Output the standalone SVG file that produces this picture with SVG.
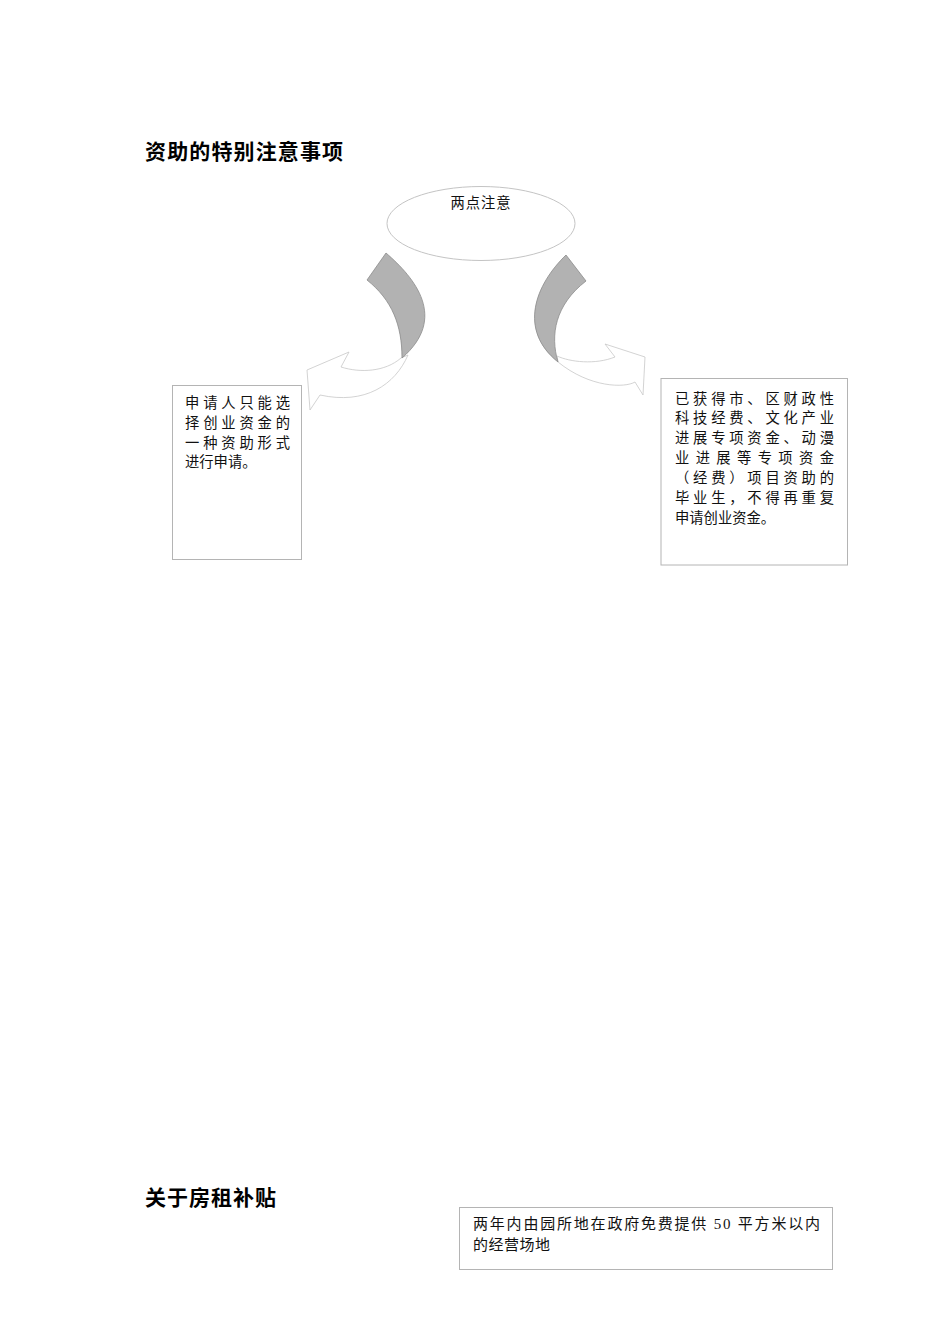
<svg xmlns="http://www.w3.org/2000/svg" width="950" height="1344" viewBox="0 0 950 1344">
<style>
.title{font-family:"Noto Sans CJK SC","Liberation Sans",sans-serif;font-weight:bold;font-size:21px;fill:#000}
.body{font-family:"Liberation Serif","Noto Sans CJK SC",serif;font-size:14.3px;fill:#111}
.box{fill:#fff;stroke:#b4b4b4;stroke-width:1}
.ell{fill:#fff;stroke:#c4c4c4;stroke-width:1}
.band{fill:#b2b2b2;stroke:#8c8c8c;stroke-width:0.8}
.head{fill:#fff;stroke:#c8c8c8;stroke-width:0.8}
</style>
<rect width="950" height="1344" fill="#fff"/>
<g id="title1"><text class="title" x="145" y="158.5" textLength="198" lengthAdjust="spacing">资助的特别注意事项</text></g>
<g id="center">
<ellipse class="ell" cx="481" cy="223.5" rx="94" ry="37"/>
<text class="body" x="481" y="208" text-anchor="middle" style="letter-spacing:1px">两点注意</text>
</g>
<g id="connectors">
<path class="head" d="M408,355 C395,385 365,405 320,395 L310,410 L307,370 L349,352 L341,367 C360,373 385,372 401,358 Z"/>
<path class="band" d="M386,253 C415,278 448,318 402,358 C402,325 392,300 367,280 Z"/>
<path class="head" d="M557,356 C570,362 595,365 615,357 L605,344 L645,357 L643,395 L635,382 C625,388 590,388 558,362 Z"/>
<path class="band" d="M566,255 C535,285 518,330 558,362 C550,335 555,305 586,281 Z"/>
</g>
<g id="left-box">
<rect class="box" x="172.5" y="385.5" width="129" height="174"/>
<text class="body" x="185" y="407.5" textLength="105" lengthAdjust="spacing">申请人只能选</text>
<text class="body" x="185" y="427.5" textLength="105" lengthAdjust="spacing">择创业资金的</text>
<text class="body" x="185" y="447.5" textLength="105" lengthAdjust="spacing">一种资助形式</text>
<text class="body" x="185" y="467">进行申请。</text>
</g>
<g id="right-box">
<rect class="box" x="661" y="378.5" width="186.5" height="186.5"/>
<text class="body" x="675" y="403.5" textLength="159" lengthAdjust="spacing">已获得市、区财政性</text>
<text class="body" x="675" y="423.4" textLength="159" lengthAdjust="spacing">科技经费、文化产业</text>
<text class="body" x="675" y="443.3" textLength="159" lengthAdjust="spacing">进展专项资金、动漫</text>
<text class="body" x="675" y="463.2" textLength="159" lengthAdjust="spacing">业进展等专项资金</text>
<text class="body" x="675" y="483.1" textLength="159" lengthAdjust="spacing">（经费）项目资助的</text>
<text class="body" x="675" y="503" textLength="159" lengthAdjust="spacing">毕业生，不得再重复</text>
<text class="body" x="675" y="522.5">申请创业资金。</text>
</g>
<g id="title2"><text class="title" x="145" y="1204.5" textLength="131" lengthAdjust="spacing">关于房租补贴</text></g>
<g id="rent-box">
<rect class="box" x="459.5" y="1207.5" width="373" height="62"/>
<text class="body" x="473" y="1229" style="font-size:15px" textLength="347" lengthAdjust="spacing">两年内由园所地在政府免费提供 50 平方米以内</text>
<text class="body" x="473" y="1250" style="font-size:15px;letter-spacing:0.5px">的经营场地</text>
</g>
</svg>
